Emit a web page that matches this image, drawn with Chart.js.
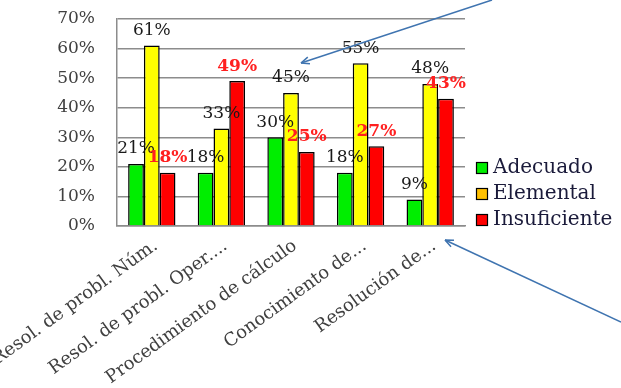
<!DOCTYPE html>
<html>
<head>
<meta charset="utf-8">
<script src="https://cdn.jsdelivr.net/npm/chart.js@4"></script>
<style>
  html, body { margin: 0; padding: 0; background: #fff; }
  #chart { display: block; }
</style>
</head>
<body>
<canvas id="chart" width="621" height="388"></canvas>
<script>
// categories and series (percent)
var categories   = ['Resol. de probl. Núm.', 'Resol. de probl. Oper....', 'Procedimiento de cálculo', 'Conocimiento de...', 'Resolución de...'];
var adecuado     = [21, 18, 30, 18, 9];
var elemental    = [61, 33, 45, 55, 48];
var insuficiente = [18, 49, 25, 27, 43];
var yTicks       = [0, 10, 20, 30, 40, 50, 60, 70];

var serif = '"DejaVu Serif", "Liberation Serif", serif';

// value labels above bars
var barLabels = {
    id: 'barLabels',
    afterDatasetsDraw: function(chart){
        var ctx = chart.ctx;
        ctx.save();
        ctx.textAlign = 'center';
        ctx.textBaseline = 'middle';
        chart.data.datasets.forEach(function(ds, i){
            var meta = chart.getDatasetMeta(i);
            meta.data.forEach(function(bar, j){
                ctx.font = (i == 2 ? 'bold ' : '') + '17px ' + serif;
                ctx.fillStyle = i == 2 ? '#ff2020' : '#1a1a1a';
                ctx.fillText(ds.data[j] + '%', bar.x, bar.y - 15);
            });
        });
        ctx.restore();
    }
};

// rotated category labels, legend and the two arrows
var extras = {
    id: 'extras',
    afterDraw: function(chart){
        var ctx = chart.ctx;
        var x = chart.scales.x;
        var base = chart.chartArea.bottom;

        ctx.save();
        ctx.fillStyle = '#404040';
        ctx.font = '18px ' + serif;
        ctx.textAlign = 'right';
        ctx.textBaseline = 'middle';
        categories.forEach(function(c, i){
            var px = x.getPixelForValue(i);
            ctx.save();
            ctx.translate(px + 4, base + 18);
            ctx.rotate(-36 * Math.PI / 180);
            ctx.fillText(c, 0, 0);
            ctx.restore();
        });
        ctx.restore();

        // legend
        ctx.save();
        var items = [['Adecuado', '#00ee00'], ['Elemental', '#ffc000'], ['Insuficiente', '#ff0000']];
        ctx.font = '20px ' + serif;
        ctx.textBaseline = 'middle';
        ctx.textAlign = 'left';
        items.forEach(function(it, k){
            var ly = 168 + k * 26;
            ctx.fillStyle = it[1];
            ctx.fillRect(476, ly - 6, 12, 12);
            ctx.strokeStyle = '#000';
            ctx.lineWidth = 1.2;
            ctx.strokeRect(476.5, ly - 5.5, 11, 11);
            ctx.fillStyle = '#1a1a3a';
            ctx.fillText(it[0], 493, ly);
        });
        ctx.restore();

        // arrows
        function arrow(x1, y1, x2, y2){
            var a = Math.atan2(y2 - y1, x2 - x1);
            ctx.beginPath();
            ctx.moveTo(x1, y1);
            ctx.lineTo(x2, y2);
            ctx.stroke();
            ctx.beginPath();
            ctx.moveTo(x2, y2);
            ctx.lineTo(x2 - 9 * Math.cos(a - 0.4), y2 - 9 * Math.sin(a - 0.4));
            ctx.moveTo(x2, y2);
            ctx.lineTo(x2 - 9 * Math.cos(a + 0.4), y2 - 9 * Math.sin(a + 0.4));
            ctx.stroke();
        }
        ctx.save();
        ctx.strokeStyle = '#3f74b0';
        ctx.lineWidth = 1.5;
        arrow(492, 0, 301, 63);
        arrow(621, 322, 445, 240);
        ctx.restore();
    }
};

var ctx = document.getElementById('chart').getContext('2d');
var chart = new Chart(ctx, {
    type: 'bar',
    data: {
        labels: categories,
        datasets: [
            { label: 'Adecuado', data: adecuado, backgroundColor: '#00ee00' },
            { label: 'Elemental', data: elemental, backgroundColor: '#ffff00' },
            { label: 'Insuficiente', data: insuficiente, backgroundColor: '#ff0000' }
        ]
    },
    options: {
        responsive: false,
        animation: false,
        layout: { padding: { top: 19, right: 156, left: 0, bottom: 0 } },
        datasets: {
            bar: {
                borderColor: '#000',
                borderWidth: 1.5,
                categoryPercentage: 0.68,
                barPercentage: 1.0
            }
        },
        plugins: {
            legend: { display: false },
            tooltip: { enabled: false }
        },
        scales: {
            x: {
                grid: { display: false, drawTicks: false },
                border: { color: '#8c8c8c', width: 1.5 },
                ticks: { display: false },
                afterFit: function(s){ s.height = 162; s.paddingLeft = 0; s.paddingRight = 0; }
            },
            y: {
                min: 0,
                max: 70,
                afterBuildTicks: function(s){ s.ticks = yTicks.map(function(v){ return { value: v }; }); },
                grid: { color: '#8c8c8c', lineWidth: 1.5, drawTicks: false },
                border: { color: '#8c8c8c', width: 1.5 },
                ticks: {
                    padding: 22,
                    color: '#404040',
                    font: { family: serif, size: 17 },
                    callback: function(v){ return v + '%'; }
                },
                afterFit: function(s){ s.width = 117; s.paddingTop = 0; s.paddingBottom = 0; }
            }
        }
    },
    plugins: [barLabels, extras]
});
</script>
</body>
</html>
